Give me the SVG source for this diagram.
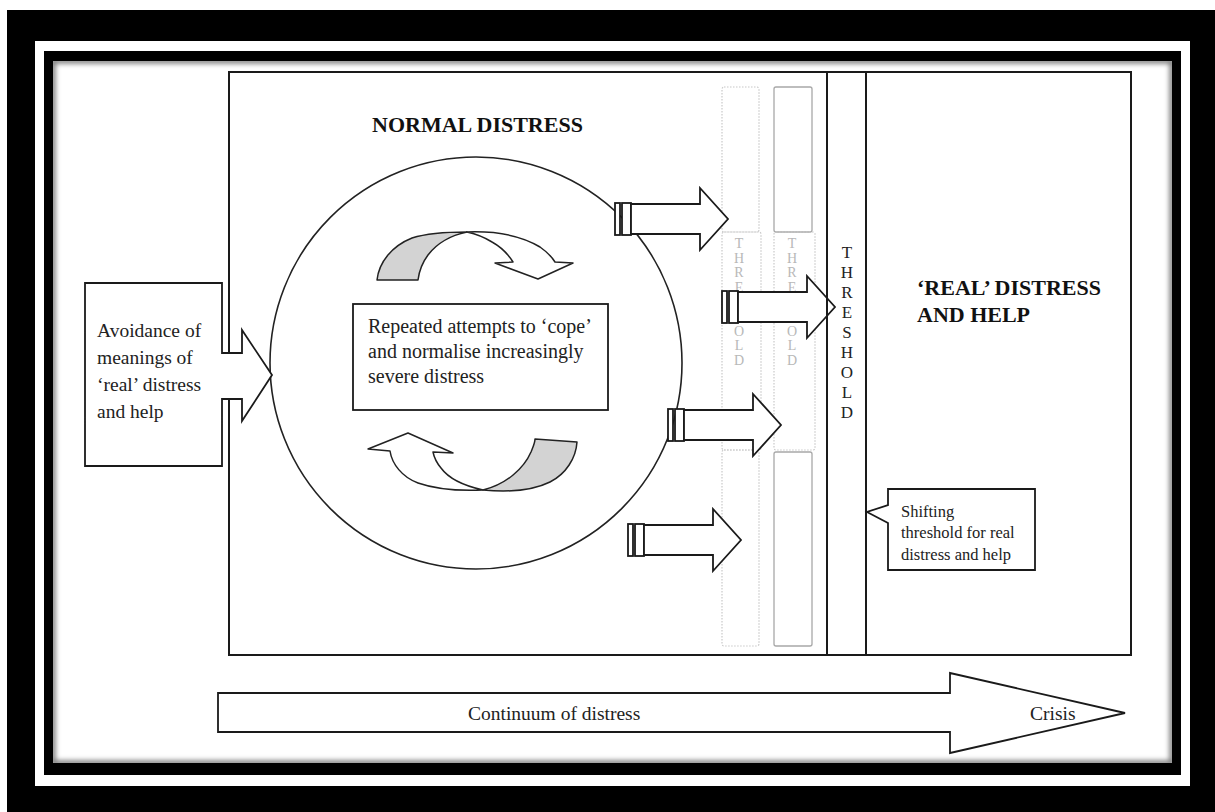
<svg xmlns="http://www.w3.org/2000/svg" width="1215" height="812" viewBox="0 0 1215 812">
  <style>
    .txt { font-family: "Liberation Serif", "Times New Roman", serif; fill: #222; }
    .head { font-family: "Liberation Serif", "Times New Roman", serif; font-weight: bold; font-size: 22px; fill: #111; }
    .line { fill: none; stroke: #1a1a1a; stroke-width: 2; }
    .shape { fill: #fff; stroke: #1a1a1a; stroke-width: 1.8; stroke-linejoin: miter; }
    .band { fill: #fff; stroke: #222; stroke-width: 1.5; stroke-linejoin: round; }
    .band-grey { fill: #d3d3d3; stroke: #222; stroke-width: 1.5; stroke-linejoin: round; }
    .faint { fill: none; stroke: #c8c8c8; stroke-width: 1.2; stroke-dasharray: 1.5 1.5; }
    .faint-solid { fill: none; stroke: #a8a8a8; stroke-width: 1.3; }
    .faint-txt { font-family: "Liberation Serif", "Times New Roman", serif; font-size: 14px; fill: #b8b8b8; text-anchor: middle; }
    .thr-txt { font-family: "Liberation Serif", "Times New Roman", serif; font-size: 17px; fill: #222; text-anchor: middle; }
  </style>
  <defs>
    <clipPath id="innerClip">
      <rect x="53" y="61" width="1119" height="702"/>
    </clipPath>
    <filter id="soft" x="-5%" y="-5%" width="110%" height="110%">
      <feGaussianBlur stdDeviation="2.5"/>
    </filter>
    <!-- block arrow with two stop bars, origin at left of bars, centred vertically -->
    <g id="blockArrow">
      <rect x="0" y="-16" width="5" height="32" class="shape"/>
      <rect x="7" y="-16" width="9" height="32" class="shape"/>
      <path d="M16,-15 H85 V-31 L113,0 L85,31 V15 H16 Z" class="shape"/>
    </g>
  </defs>

  <!-- picture frame -->
  <g id="frame">
    <rect x="0" y="0" width="1215" height="812" fill="#fff"/>
    <rect x="7" y="10" width="1208" height="802" fill="#000"/>
    <rect x="35" y="41" width="1155" height="745" fill="#fff"/>
    <rect x="44" y="51" width="1137" height="724" fill="#000"/>
    <rect x="53" y="61" width="1119" height="702" fill="#fff"/>
    <rect x="53" y="61" width="1119" height="702" fill="none" stroke="#000" stroke-opacity="0.55" stroke-width="5" filter="url(#soft)" clip-path="url(#innerClip)"/>
  </g>

  <!-- faint earlier thresholds -->
  <g id="faint-thresholds">
    <rect x="722" y="87" width="37" height="145" rx="2" class="faint"/>
    <rect x="722" y="232" width="39" height="218" rx="2" class="faint"/>
    <rect x="722" y="450" width="37" height="196" rx="2" class="faint"/>
    <rect x="774" y="87" width="38" height="145" rx="2" class="faint-solid"/>
    <rect x="774" y="232" width="41" height="218" rx="2" class="faint"/>
    <rect x="774" y="452" width="38" height="194" rx="2" class="faint-solid"/>
    <text class="faint-txt">
      <tspan x="739" y="248">T</tspan><tspan x="739" y="262.6">H</tspan><tspan x="739" y="277.2">R</tspan><tspan x="739" y="291.8">E</tspan><tspan x="739" y="306.4">S</tspan><tspan x="739" y="321">H</tspan><tspan x="739" y="335.6">O</tspan><tspan x="739" y="350.2">L</tspan><tspan x="739" y="364.8">D</tspan>
    </text>
    <text class="faint-txt">
      <tspan x="792" y="248">T</tspan><tspan x="792" y="262.6">H</tspan><tspan x="792" y="277.2">R</tspan><tspan x="792" y="291.8">E</tspan><tspan x="792" y="306.4">S</tspan><tspan x="792" y="321">H</tspan><tspan x="792" y="335.6">O</tspan><tspan x="792" y="350.2">L</tspan><tspan x="792" y="364.8">D</tspan>
    </text>
  </g>

  <!-- normal distress region -->
  <g id="normal-distress">
    <rect x="229" y="72" width="902" height="583" class="line"/>
    <text class="head" x="372" y="132">NORMAL DISTRESS</text>
  </g>

  <!-- coping cycle -->
  <g id="coping-cycle">
    <circle cx="476" cy="363" r="206" fill="none" stroke="#222" stroke-width="1.6"/>
  </g>

  <g id="cycle-arrow-top">
    <path class="band-grey" d="M377,280 C379,262 392,246 412,238 C428,233 447,232 467,232 C452,235 437,243 428,255 C422,263 419,272 418,280 Z"/>
    <path class="band" d="M467,232 C495,231 522,236 540,247 C547,252 552,257 555,262 L573,263 L538,279 L495,263 L513,262 C508,254 501,247 492,242 C484,237 476,234 467,232 Z"/>
  </g>

  <g id="cycle-arrow-bottom">
    <path class="band-grey" d="M483,490 C507,484 524,468 531,452 C533,447 535,443 535,439 L577,442 C576,458 566,474 550,482 C530,492 505,492 483,490 Z"/>
    <path class="band" d="M483,490 C465,486 449,479 441,468 C436,462 434,457 433,452 L453,453 L408,433 L368,449 L390,451 C392,464 402,477 418,483 C438,490 460,491 483,490 Z"/>
  </g>

  <g id="cycle-box">
    <rect x="353" y="304" width="255" height="106" class="shape"/>
    <text class="txt" font-size="20">
      <tspan x="368" y="333">Repeated attempts to ‘cope’</tspan>
      <tspan x="368" y="358">and normalise increasingly</tspan>
      <tspan x="368" y="383">severe distress</tspan>
    </text>
  </g>

  <!-- avoidance callout -->
  <g id="avoidance">
    <path class="shape" d="M85,283 H222 V353 H242 V330 L272,375 L242,421 V399 H222 V466 H85 Z"/>
    <text class="txt" font-size="19.5">
      <tspan x="97" y="337">Avoidance of</tspan>
      <tspan x="97" y="364">meanings of</tspan>
      <tspan x="97" y="391">‘real’ distress</tspan>
      <tspan x="97" y="418">and help</tspan>
    </text>
  </g>

  <!-- escalating block arrows -->
  <g id="connectors">
    <use href="#blockArrow" transform="translate(615,219)"/>
    <use href="#blockArrow" transform="translate(722,307)"/>
    <use href="#blockArrow" transform="translate(668,425)"/>
    <use href="#blockArrow" transform="translate(628,540)"/>
  </g>

  <!-- current threshold -->
  <g id="threshold">
    <line x1="827" y1="72" x2="827" y2="655" class="line"/>
    <line x1="866" y1="72" x2="866" y2="655" class="line"/>
    <text class="thr-txt">
      <tspan x="847" y="258">T</tspan><tspan x="847" y="278">H</tspan><tspan x="847" y="298">R</tspan><tspan x="847" y="318">E</tspan><tspan x="847" y="338">S</tspan><tspan x="847" y="358">H</tspan><tspan x="847" y="378">O</tspan><tspan x="847" y="398">L</tspan><tspan x="847" y="418">D</tspan>
    </text>
  </g>

  <g id="real-distress">
    <text class="head">
      <tspan x="917" y="295">‘REAL’ DISTRESS</tspan>
      <tspan x="917" y="322">AND HELP</tspan>
    </text>
  </g>

  <g id="shifting-threshold">
    <path class="shape" stroke-width="1.5" d="M888,489 H1035 V570 H888 V523 L867,512 L888,505 Z"/>
    <text class="txt" font-size="16.5">
      <tspan x="901" y="517">Shifting</tspan>
      <tspan x="901" y="538">threshold for real</tspan>
      <tspan x="901" y="560">distress and help</tspan>
    </text>
  </g>

  <!-- continuum arrow -->
  <g id="continuum">
    <path class="shape" d="M218,693 H950 V673 L1125,713 L950,753 V732 H218 Z"/>
    <text class="txt" font-size="19.5" x="468" y="720">Continuum of distress</text>
    <text class="txt" font-size="19.5" x="1030" y="720">Crisis</text>
  </g>
</svg>
